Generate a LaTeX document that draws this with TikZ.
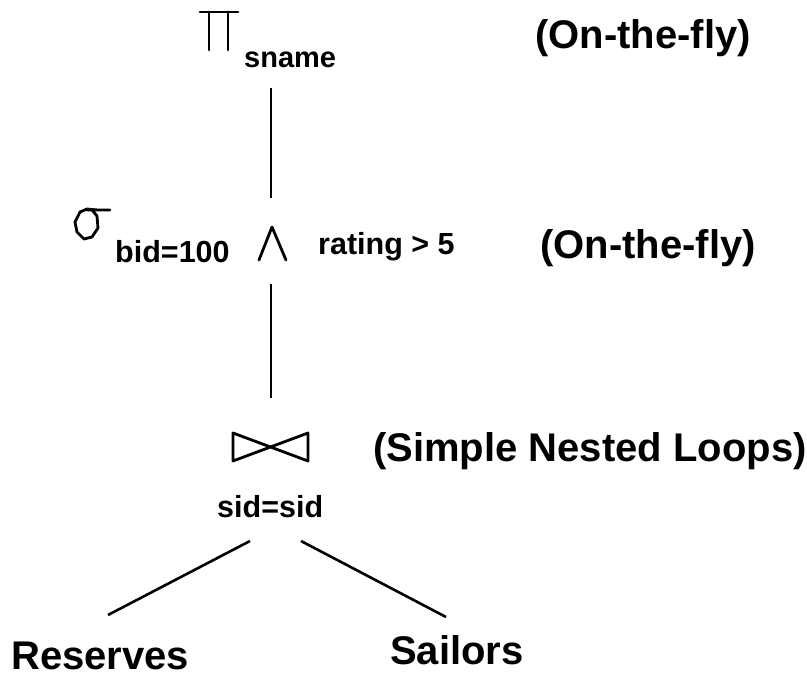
\documentclass[tikz,border=0pt]{standalone}
\usepackage{fontspec}
\setmainfont{Liberation Sans}
\begin{document}
\begin{tikzpicture}[x=1pt,y=-1pt,
  sym/.style={line width=2.8pt,line cap=round,line join=round},
  edge/.style={line width=2.6pt},
  big/.style={inner sep=0pt,anchor=base west,font=\fontsize{40}{48}\bfseries\selectfont},
  small/.style={inner sep=0pt,anchor=base west,font=\fontsize{30.5}{36}\bfseries\selectfont}]
\useasboundingbox (0,0) rectangle (807,687);

% projection: Pi symbol and subscript
\draw[sym] (200,12) -- (238,12) (209,12) -- (209,50) (228,12) -- (228,50);
\node[small,font=\fontsize{29}{34}\bfseries\selectfont] (sname) at (244,68) {sname};
\node[big] (fly1) at (535,49) {(On-the-fly)};

% selection: sigma, condition, wedge
\draw[sym] (98,210) -- (87,209) -- (80,212) -- (75,222) -- (77,232) -- (84,239) -- (92,237) -- (98,228) -- (97,216) -- (92,210) -- (87,210) (92,210) -- (110,210);
\node[small] (bid) at (115,263) {bid=100};
\draw[sym] (259,260) -- (272,227) -- (286,260);
\node[small] (rating) at (318,255) {rating > 5};
\node[big] (fly2) at (540,259) {(On-the-fly)};

% join: bowtie and condition
\draw[sym] (233,433) -- (233,461) -- (308,433) -- (308,461) -- cycle;
\node[small] (cond) at (217,517) {sid=sid};
\node[big] (snl) at (373,461) {(Simple Nested Loops)};

% relations
\node[big] (res) at (11,669) {Reserves};
\node[big] (sail) at (390,664) {Sailors};

% tree edges
\coordinate (pbot) at (271,88);
\coordinate (stop) at (271,198);
\coordinate (sbot) at (271,284);
\coordinate (jtop) at (271,398);
\coordinate (jl) at (250,541);
\coordinate (rl) at (108,615);
\coordinate (jr) at (301,541);
\coordinate (sr) at (446,617);
\draw[edge] (pbot) -- (stop);
\draw[edge] (sbot) -- (jtop);
\draw[edge] (jl) -- (rl);
\draw[edge] (jr) -- (sr);
\end{tikzpicture}
\end{document}
